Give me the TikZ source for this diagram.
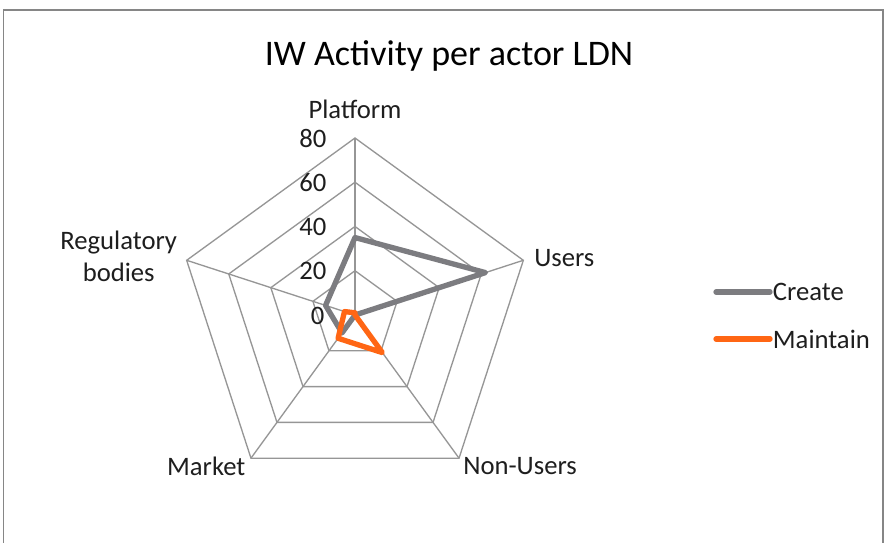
\documentclass[tikz,border=0pt]{standalone}
\usepackage{fontspec}
\setmainfont{Carlito}

\definecolor{creategray}{RGB}{124,124,128}
\definecolor{maintainorange}{RGB}{255,102,20}
\definecolor{gridgray}{RGB}{150,150,150}
\definecolor{framegray}{RGB}{134,134,134}
\definecolor{labeltext}{RGB}{30,30,30}

\tikzset{
	gridline/.style={draw=gridgray, line width=1pt},
	createline/.style={draw=creategray, line width=4pt, line join=round, line cap=round},
	maintainline/.style={draw=maintainorange, line width=4pt, line join=round, line cap=round},
	axislabel/.style={text=labeltext, font=\fontsize{20}{24}\selectfont, inner sep=1pt},
	ticklabel/.style={text=labeltext, font=\fontsize{20}{24}\selectfont, inner sep=1pt, anchor=east},
}

\begin{document}
\begin{tikzpicture}[x=0.75pt,y=0.75pt]
	\def\unit{2.2125}
	\def\rmax{177}

	\useasboundingbox (0,0) rectangle (886,543);

	% cadre
	\draw[framegray, line width=1pt] (3.5,0) -- (3.5,533) -- (883,533) -- (883,0);

	% titre
	\node[text=black, font=\fontsize{27}{32}\selectfont] (title) at (449,487) {IW Activity per actor LDN};

	\begin{scope}[shift={(355,228)}]
		\coordinate (o) at (0,0);

		% grille
		\foreach \r in {1,...,4} {
			\draw[gridline] (90:\r*44.25) -- (18:\r*44.25) -- (-54:\r*44.25) -- (-126:\r*44.25) -- (162:\r*44.25) -- cycle;
		}
		\foreach \i in {1,...,5} {
			\coordinate (v\i) at ({90-72*(\i-1)}:\rmax);
			\draw[gridline] (o) -- (v\i);
		}

		% graduations
		\foreach \v [count=\k] in {20,40,60,80} {
			\node[ticklabel] (t\k) at (-27,\v*\unit) {\v};
		}
		\node[ticklabel] (t0) at (-29,-1) {0};

		% acteurs
		\node[axislabel, anchor=south] (platform) at ([yshift=13]v1) {Platform};
		\node[axislabel, anchor=west] (users) at ([xshift=7,yshift=2]v2) {Users};
		\node[axislabel, anchor=north west] (nonusers) at ([xshift=2,yshift=2]v3) {Non-Users};
		\node[axislabel, anchor=north east] (market) at ([xshift=-3,yshift=2]v4) {Market};
		\node[axislabel, anchor=east, align=center] (regulatory) at ([xshift=-6,yshift=3]v5) {Regulatory\\bodies};

		% Create
		\foreach \v [count=\i] in {35,62,0,10,14} {
			\coordinate (c\i) at ({90-72*(\i-1)}:\v*\unit);
		}
		\draw[createline] (c1) -- (c2) -- (c3) -- (c4) -- (c5) -- cycle;

		% Maintain
		\foreach \v [count=\i] in {1,0,21,13,5} {
			\coordinate (m\i) at ({90-72*(\i-1)}:\v*\unit);
		}
		\draw[maintainline] (m1) -- (m2) -- (m3) -- (m4) -- (m5) -- cycle;
	\end{scope}

	% legende
	\coordinate (lc) at (716,251);
	\coordinate (lm) at (716,204);
	\node[axislabel, anchor=west, inner sep=2pt] (create) at (770,251) {Create};
	\node[axislabel, anchor=west, inner sep=2pt] (maintain) at (770,204) {Maintain};
	\draw[createline] (lc) -- (create.west);
	\draw[maintainline] (lm) -- (maintain.west);

\end{tikzpicture}
\end{document}
